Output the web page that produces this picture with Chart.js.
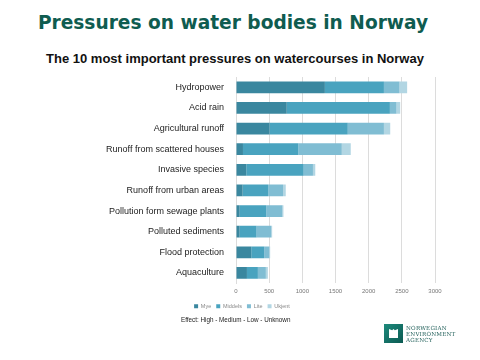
<!DOCTYPE html>
<html>
<head>
<meta charset="utf-8">
<script src="https://cdn.jsdelivr.net/npm/chart.js@4"></script>
<style>
  body { margin: 0; width: 480px; height: 360px; background: #fff; position: relative; overflow: hidden; font-family: "DejaVu Sans", sans-serif; }
  #title { position: absolute; left: 0; width: 466px; top: 12px; text-align: center; font: bold 18.6px "DejaVu Sans", sans-serif; color: #0f5c50; }
  #subtitle { position: absolute; left: 0; width: 470px; top: 51px; text-align: center; font: bold 13px "Liberation Sans", sans-serif; color: #111; }
  #wrap { position: absolute; left: 0; top: 0; width: 480px; height: 319px; }
  #effect { position: absolute; left: 181px; top: 316px; font: 6.3px "Liberation Sans", sans-serif; color: #222; }
  #logo { position: absolute; left: 384px; top: 324px; width: 19px; height: 19px; background: linear-gradient(135deg, #1d8a7c, #0c5a52); }
  #logo div { position: absolute; left: 5px; top: 5px; width: 9px; height: 9px; background: #fff; clip-path: polygon(0 0, 35% 15%, 50% 0, 65% 15%, 100% 0, 100% 100%, 0 100%); }
  #logotext { position: absolute; left: 406px; top: 325px; font: 5.6px/6px "DejaVu Serif", serif; color: #1f5e58; letter-spacing: 0.2px; }
</style>
</head>
<body>
<div id="title">Pressures on water bodies in Norway</div>
<div id="subtitle">The 10 most important pressures on watercourses in Norway</div>
<div id="wrap"><canvas id="chart"></canvas></div>
<div id="effect">Effect: High - Medium - Low - Unknown</div>
<div id="logo"><div></div></div>
<div id="logotext">NORWEGIAN<br>ENVIRONMENT<br>AGENCY</div>
<script>
// categories, top to bottom
const pressures = [
  'Hydropower', 'Acid rain', 'Agricultural runoff', 'Runoff from scattered houses',
  'Invasive species', 'Runoff from urban areas', 'Pollution form sewage plants',
  'Polluted sediments', 'Flood protection', 'Aquaculture'
];

// number of water bodies per effect level
const mye     = [1340, 765, 505, 105, 155, 100, 55, 55, 230, 165];
const middels = [890, 1555, 1180, 835, 865, 385, 400, 255, 195, 165];
const lite    = [235, 100, 545, 655, 140, 225, 245, 220, 75, 120];
const ukjent  = [115, 55, 95, 135, 35, 40, 15, 15, 15, 30];

const xTicksMax = 3000;
const xTickStep = 500;

const colors = ['#3a879f', '#49a3bf', '#80bdd3', '#b2d6e3'];

const ctx = document.getElementById('chart').getContext('2d');
new Chart(ctx, {
  type: 'bar',
  data: {
    labels: pressures,
    datasets: [
      { label: 'Mye', data: mye, backgroundColor: colors[0] },
      { label: 'Middels', data: middels, backgroundColor: colors[1] },
      { label: 'Lite', data: lite, backgroundColor: colors[2] },
      { label: 'Ukjent', data: ukjent, backgroundColor: colors[3] }
    ]
  },
  options: {
    indexAxis: 'y',
    responsive: true,
    maintainAspectRatio: false,
    animation: false,
    datasets: { bar: { categoryPercentage: 1, barPercentage: 0.57 } },
    // left padding keeps the legend centred under the page like the original
    layout: { padding: { left: 49, right: 45, top: 77, bottom: 0 } },
    scales: {
      x: {
        stacked: true,
        min: 0,
        max: xTicksMax,
        ticks: {
          stepSize: xTickStep,
          callback: (v) => String(v),
          font: { size: 6, family: 'Liberation Sans' }, color: '#777', padding: 4
        },
        grid: { color: '#dcdcdc', drawTicks: false },
        border: { display: false }
      },
      y: {
        stacked: true,
        afterFit: (s) => { s.width = 187; },
        ticks: { font: { size: 9, family: 'Liberation Sans' }, color: '#222', padding: 4 },
        grid: { display: false },
        border: { color: '#dcdcdc' }
      }
    },
    plugins: {
      legend: {
        position: 'bottom',
        labels: { boxWidth: 4, boxHeight: 4, padding: 5, font: { size: 5.5, family: 'Liberation Sans' }, color: '#888' }
      },
      tooltip: { enabled: false }
    }
  }
});
</script>
</body>
</html>
